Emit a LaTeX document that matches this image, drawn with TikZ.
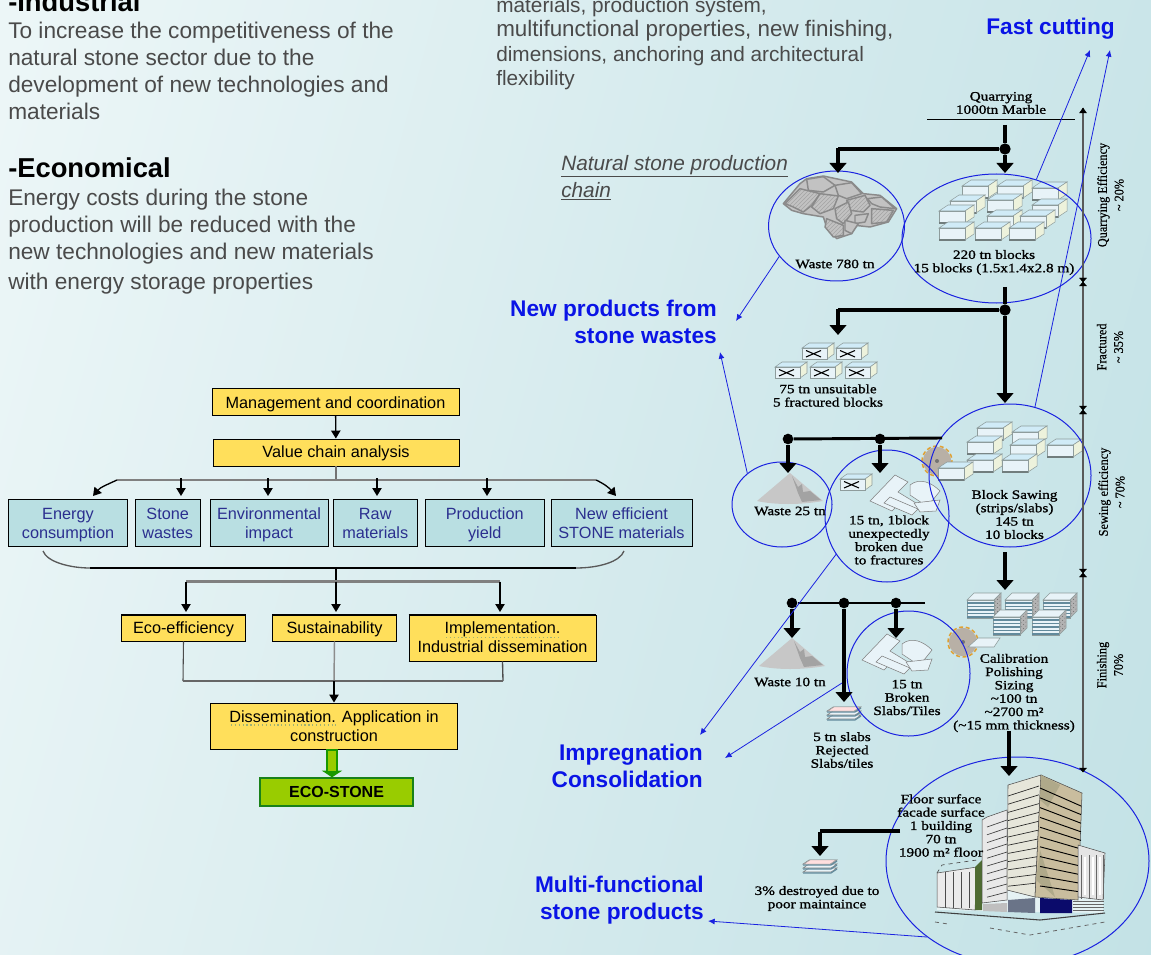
\documentclass[tikz,border=0pt]{standalone}
\usepackage{fontspec}
\usetikzlibrary{arrows.meta,shapes.geometric,calc,patterns}
\setmainfont{Liberation Sans}
\newfontfamily\ser[FakeStretch=1.19,FakeBold=1.2]{Liberation Serif}
\newfontfamily\serr[FakeStretch=0.92,FakeBold=0.4]{Liberation Serif}
\definecolor{bgA}{HTML}{F8FCFC}
\definecolor{bgC}{HTML}{ECF6F7}
\definecolor{bgM}{HTML}{D2E9EC}
\definecolor{bgB}{HTML}{BFE0E4}
\definecolor{yel}{HTML}{FFDF5B}
\definecolor{tealbox}{HTML}{B9DFE2}
\definecolor{boxblue}{HTML}{2B2F8F}
\definecolor{ecogreen}{HTML}{99CC00}
\definecolor{bodygray}{HTML}{4A4A4A}
\definecolor{lblblue}{HTML}{0A14E6}
\definecolor{ellblue}{HTML}{1A22E0}
\definecolor{blkfront}{HTML}{E8F3F8}
\definecolor{blktop}{HTML}{D0EBF7}
\definecolor{blkside}{HTML}{EDF2DC}
\definecolor{blkline}{HTML}{8E9C9C}
\definecolor{stripe}{HTML}{628A9C}
\definecolor{bldtan}{HTML}{C9BD9E}
\definecolor{bldtand}{HTML}{AFA98A}
\definecolor{bldpale}{HTML}{E6E6DA}
\definecolor{bldnavy}{HTML}{0B0B6B}
\definecolor{bldslate}{HTML}{6A7488}
\definecolor{bldgreen}{HTML}{4E6B32}
\definecolor{sawgray}{HTML}{B8B0A6}
\definecolor{sawedge}{HTML}{E0A030}
\definecolor{rockc}{HTML}{C2C2C2}
\definecolor{rockd}{HTML}{8A8A8A}
\definecolor{rockh}{HTML}{A4A4A4}
\pgfdeclarehorizontalshading{bgsh}{100bp}{color(0bp)=(bgA); color(27.4bp)=(bgA); color(39bp)=(bgC); color(52.4bp)=(bgM); color(64bp)=(bgB); color(100bp)=(bgB)}
\newcommand\flb{\rule{0pt}{11.7pt}}
\newcommand\fla{\rule{0pt}{10.4pt}}
\tikzset{
  yb/.style={draw=black,fill=yel,line width=0.7pt,inner sep=0pt,align=center,font=\fontsize{12.2}{14.2}\selectfont,text=black},
  tb/.style={draw=black,fill=tealbox,line width=0.6pt,inner sep=0pt,align=center,font=\fontsize{12.2}{14.25}\selectfont,text=boxblue},
  gb/.style={draw=green!45!black!90,fill=ecogreen,line width=1pt,inner sep=0pt,font=\bfseries\fontsize{12}{14}\selectfont,text=black},
  body/.style={anchor=north west,inner sep=0pt,align=left,text=bodygray,font=\fontsize{17}{20.25}\selectfont},
  head/.style={anchor=west,inner sep=0pt,text=black,font=\bfseries\fontsize{20.5}{24}\selectfont},
  chain/.style={anchor=west,inner sep=0pt,text=bodygray,font=\itshape\fontsize{15.6}{19}\selectfont},
  bluelbl/.style={anchor=east,inner sep=0pt,align=right,text=lblblue,font=\bfseries\fontsize{17}{20.25}\selectfont},
  st/.style={inner sep=0pt,align=center,text=black,font={\ser\fontsize{9.6}{10}\selectfont}},
  vt/.style={inner sep=0pt,align=center,rotate=90,text=black,font={\serr\fontsize{10}{12.5}\selectfont}},
  ell/.style={ellipse,draw=ellblue,line width=0.75pt,inner sep=0pt},
  blueln/.style={draw=ellblue,line width=0.6pt,-{Latex[length=5pt,width=4.5pt]}},
  bar/.style={draw=black!50,line width=2.2pt},
  thin conn/.style={draw=black,line width=1pt,-{Triangle[length=6pt,width=7pt]}},
  fat/.style={draw=black,line width=3pt},
  fatar/.style={draw=black,line width=3pt,-{Triangle[length=7.5pt,width=12.5pt]}},
  jd/.style={circle,fill=black,inner sep=0pt,minimum size=8.5pt},
  scale ln/.style={draw=black!65,line width=1pt},
  sctip/.style={draw=black,fill=black,line width=0.3pt},
  rc/.style={fill=rockc,draw=rockd,line width=1.1pt,line join=round},
  rh/.style={pattern=north east lines,pattern color=rockh,draw=rockd,line width=1.1pt,line join=round,preaction={fill=rockc}},
}
\newcommand\stblock[2]{%
  \filldraw[fill=blktop,draw=blkline,line width=.4pt] (#1,#2) -- ++(9,-6) -- ++(26,0) -- ++(-9,6) -- cycle;
  \filldraw[fill=blkside,draw=blkline,line width=.4pt] (#1+26,#2) -- ++(9,-6) -- ++(0,12) -- ++(-9,6) -- cycle;
  \filldraw[fill=blkfront,draw=blkline,line width=.5pt] (#1,#2) rectangle ++(26,12);
  \draw[blkline!80!black,line width=1pt] (#1,#2+12) -- ++(26,0);
}
\newcommand\xblock[2]{%
  \filldraw[fill=blktop,draw=blkline,line width=.4pt] (#1,#2) -- ++(7,-5) -- ++(25,0) -- ++(-7,5) -- cycle;
  \filldraw[fill=blkside,draw=blkline,line width=.4pt] (#1+25,#2) -- ++(7,-5) -- ++(0,11) -- ++(-7,5) -- cycle;
  \filldraw[fill=blkfront,draw=blkline,line width=.5pt] (#1,#2) rectangle ++(25,11);
  \draw[black,line width=.8pt] (#1+4,#2+2.5) -- ++(15,6.5) (#1+4,#2+9) -- ++(15,-6.5);
}
\newcommand\stackblk[2]{%
  \filldraw[fill=blkfront,draw=blkline,line width=.4pt] (#1,#2) -- ++(7,-7) -- ++(27,0) -- ++(-7,7) -- cycle;
  \filldraw[fill=black!30,draw=blkline,line width=.4pt] (#1+27,#2) -- ++(7,-7) -- ++(0,18) -- ++(-7,7) -- cycle;
  \filldraw[fill=blkfront,draw=blkline,line width=.4pt] (#1,#2) rectangle ++(27,18);
  \foreach \k in {3,6.5,10,13.5,17}{\draw[stripe,line width=.9pt] (#1,#2+\k) -- ++(27,0);}
  \foreach \k in {2,6,10,14}{\draw[black!60,line width=.5pt,dotted] (#1+28,#2+\k) -- ++(6,-6);}
}
\newcommand\sawdisc[2]{%
  \fill[sawgray] (#1,#2) circle[radius=14];
  \draw[sawedge,line width=1.1pt,dash pattern=on 3pt off 2pt] (#1,#2) circle[radius=15];
  \fill[black!55] (#1,#2) circle[radius=2];
}
\newcommand\pile[2]{%
  \fill[black!22] (#1,#2) -- (#1+33,#2+28) .. controls (#1+10,#2+32) and (#1-15,#2+32) .. (#1-33,#2+28) -- cycle;
  \fill[black!36] (#1+2,#2+3) -- (#1+8,#2+14) -- (#1+12,#2+11) -- (#1+13,#2+19) -- (#1+20,#2+18) -- (#1+31,#2+27) -- (#1+12,#2+29) -- (#1+8,#2+20) -- cycle;
}
\newcommand\brokenA[2]{%
  \begin{scope}[shift={(#1,#2)}]
  \tikzset{pc/.style={fill=blkfront,draw=black!50,line width=.4pt}}
  \filldraw[pc] (0,26) -- (25,0) -- (38,7) -- (28,17) -- (46,28) -- (52,36) -- (30,28) -- (22,36) -- cycle;
  \filldraw[pc] (20,22) -- (48,34) -- (42,40) -- (14,28) -- cycle;
  \filldraw[pc] (40,10) .. controls (50,2) and (62,8) .. (70,16) -- (62,26) -- (52,28) -- (40,20) -- cycle;
  \filldraw[pc] (44,28) -- (70,25) -- (66,36) -- (50,37) -- cycle;
  \end{scope}
}
\newcommand\slabicon[2]{%
  \foreach \k in {10,6,2}{
  \filldraw[fill=blkfront,draw=black!50,line width=.4pt] (#1,#2+\k) -- ++(6,-4) -- ++(28,0) -- ++(-6,4) -- cycle;
  \draw[stripe,line width=.9pt] (#1,#2+\k+1) -- ++(28,0) -- ++(6,-4);}
  \filldraw[fill=pink!50!white,draw=black!40,line width=.3pt] (#1+1,#2+2) -- ++(6,-4) -- ++(26,0) -- ++(-6,4) -- cycle;
}
\begin{document}
\begin{tikzpicture}[x=0.75pt,y=-0.75pt]
\useasboundingbox (0,0) rectangle (1151,955);
\begin{scope}
\clip (0,0) rectangle (1151,955);
\shade[shading=bgsh,shading angle=-15] (575.5-1500,477.5-1500) rectangle (575.5+1500,477.5+1500);
\end{scope}

% ---------------- text on the left and at the top
\node[head] (tIndustrial) at (8,2) {-Industrial};
\node[body] (tIndText) at (8,22) {To increase the competitiveness of the\\natural stone sector due to the\\development of new technologies and\\materials};
\node[head] (tEco) at (8,168) {-Economical};
\node[body] (tEcoText) at (8,189) {Energy costs during the stone\\production will be reduced with the\\new technologies and new materials\\[2.2pt]with energy storage properties};
\node[body,font=\fontsize{15.6}{18.4}\selectfont] (tTop) at (496,-3) {materials, production system,\\{\fontsize{16.8}{18.4}\selectfont multifunctional properties, new finishing,}\\dimensions, anchoring and architectural\\flexibility};
\node[chain] (tChainA) at (561,166) {\underline{Natural stone production}};
\node[chain] (tChainB) at (561,191) {\underline{chain}};
\node[bluelbl] (lFast) at (1115,29) {Fast cutting};
\node[bluelbl] (lNew) at (717,321.5) {New products from\\stone wastes};
\node[bluelbl] (lImp) at (703,765.5) {Impregnation\\Consolidation};
\node[bluelbl] (lMulti) at (704,900.5) {Multi-functional\\stone products};

% ---------------- flow chart on the left
\node[yb,minimum width={247*.75pt},minimum height={27*.75pt}] (mgmt) at (335.5,402) {\flb Management and coordination\vphantom{g}};
\node[yb,minimum width={246*.75pt},minimum height={27*.75pt}] (vca) at (336,452.5) {\fla Value chain analysis\vphantom{g}};
\node[tb,minimum width={119*.75pt},minimum height={47*.75pt}] (bEn) at (68,522.5) {\flb Energy\\\vphantom{Eg}consumption};
\node[tb,minimum width={64.5*.75pt},minimum height={47*.75pt}] (bSt) at (167.75,522.5) {\flb Stone\\\vphantom{Eg}wastes};
\node[tb,minimum width={118*.75pt},minimum height={47*.75pt}] (bEv) at (269,522.5) {\flb Environmental\\\vphantom{Eg}impact};
\node[tb,minimum width={83.5*.75pt},minimum height={47*.75pt}] (bRw) at (375.25,522.5) {\flb Raw\\\vphantom{Eg}materials};
\node[tb,minimum width={118.5*.75pt},minimum height={47*.75pt}] (bPr) at (484.75,522.5) {\flb Production\\\vphantom{Eg}yield};
\node[tb,minimum width={141*.75pt},minimum height={47*.75pt}] (bNw) at (621.5,522.5) {\flb New efficient\\\vphantom{Eg}STONE materials};
\node[yb,minimum width={124*.75pt},minimum height={26*.75pt}] (bEco) at (183.5,628) {\fla Eco-efficiency\vphantom{g}};
\node[yb,minimum width={124*.75pt},minimum height={26*.75pt}] (bSus) at (334.5,628) {\fla Sustainability\vphantom{g}};
\node[yb,minimum width={187*.75pt},minimum height={46*.75pt}] (bImp) at (502.5,638) {\fla Implementation.\\\vphantom{Eg}Industrial dissemination};
\node[yb,minimum width={247*.75pt},minimum height={46*.75pt}] (bDis) at (334,726) {\flb Dissemination. Application in\\\vphantom{Eg}construction};
\node[gb,minimum width={153*.75pt},minimum height={28*.75pt}] (bStone) at (336.5,792) {ECO-STONE};
\foreach \n in {vca,bEn,bSt,bEv,bRw,bPr,bNw,bImp,bDis}{\draw[black,line width=1.3pt] (\n.south west) -- (\n.south east);}
\draw[black,line width=1.3pt] (bEco.north west) -- (bEco.north east) (bSus.north west) -- (bSus.north east) (bImp.north west) -- (bImp.north east);

\draw[yellow!60!green!60!black!70,line width=.9pt,dotted] (446,637.5) -- (559,637.5);
\draw[yellow!60!green!60!black!70,line width=.9pt,dotted] (231,725) -- (336,725);

\coordinate (busL) at (117,480);
\coordinate (busM) at (336,480);
\coordinate (busR) at (596,480);
\draw[thin conn] (mgmt) -- (vca);
\draw[draw=black!55,line width=1pt] (vca) -- (busM);
\draw[bar] (busL) -- (busR);
\coordinate (tipEn) at (93,496);
\coordinate (tipNw) at (616,496);
\draw[thin conn] (busL) to[out=205,in=50] (tipEn);
\draw[thin conn] (busR) to[out=-25,in=130] (tipNw);
\foreach \nm/\xx in {St/181,Ev/268,Rw/377,Pr/487}{
  \coordinate (top\nm) at (\xx,478);
  \coordinate (tip\nm) at (\xx,496);
  \draw[thin conn] (top\nm) -- (tip\nm);
}
% brace
\coordinate (brL) at (43,551);
\coordinate (brR) at (624,551);
\coordinate (brA) at (90,568);
\coordinate (brB) at (576,568);
\coordinate (brM) at (336,568);
\draw[black!65,line width=1pt] (brL) .. controls (47,562) and (70,568) .. (brA);
\draw[black!65,line width=1pt] (brR) .. controls (620,562) and (598,568) .. (brB);
\draw[black,line width=1.5pt] (brA) -- (brB);
\coordinate (bus2M) at (336,581.5);
\coordinate (bus2L) at (186,581.5);
\coordinate (bus2R) at (500,581.5);
\draw[black,line width=1pt] (brM) -- (bus2M);
\draw[bar] (bus2L) -- (bus2R);
\coordinate (t2L) at (186,612);
\coordinate (t2M) at (336,612);
\coordinate (t2R) at (500,612);
\draw[thin conn] (bus2L) -- (t2L);
\draw[thin conn] (bus2M) -- (t2M);
\draw[thin conn] (bus2R) -- (t2R);
% join
\coordinate (jL) at (183,681);
\coordinate (jM) at (334,681);
\coordinate (jR) at (503,681);
\draw[black!70,line width=.8pt] (bEco.south) -- (jL);
\draw[black!45,line width=1.1pt] (bSus.south) -- (jM);
\draw[black!70,line width=1pt] (bImp.south) -- (jR);
\draw[black!60,line width=1.2pt] (jL) -- (jR);
\draw[thin conn] (jM) -- (bDis.north);
\draw[draw=green!55!black!90!yellow,line width=9pt,-{Triangle[length=5pt,width=15pt]}] ([xshift=-1.5pt]bDis.south) -- ([xshift=-1.5pt]bDis.south |- bStone.north);
\draw[draw=ecogreen,line width=6pt] ([xshift=-1.5pt,yshift=-1pt]bDis.south) -- ([xshift=-1.5pt,yshift=5pt]bDis.south |- bStone.north);

% ---------------- icons, production chain
% rock
\begin{scope}[shift={(780,172)},x=0.25pt,y=-0.25pt]
\filldraw[rc] (10,95) -- (60,35) -- (80,20) -- (130,12) -- (215,30) -- (250,65) -- (300,70) -- (350,110) -- (325,150) -- (270,165) -- (225,160) -- (215,185) -- (170,200) -- (140,165) -- (130,135) -- (70,125) -- (35,115) -- cycle;
\filldraw[rc] (80,22) -- (130,14) -- (165,40) -- (130,60) -- (85,55) -- cycle;
\filldraw[rc] (165,40) -- (215,32) -- (245,65) -- (200,80) -- (175,70) -- cycle;
\filldraw[rh] (60,50) -- (120,65) -- (95,100) -- (70,120) -- (40,105) -- (15,95) -- cycle;
\filldraw[rh] (120,65) -- (175,72) -- (160,110) -- (120,125) -- (95,105) -- cycle;
\filldraw[rh] (200,85) -- (255,70) -- (270,100) -- (250,120) -- (210,115) -- cycle;
\filldraw[rh] (165,110) -- (205,90) -- (215,125) -- (190,155) -- (170,140) -- cycle;
\filldraw[rc] (262,80) -- (305,75) -- (345,110) -- (300,105) -- (275,95) -- cycle;
\filldraw[rc] (225,130) -- (265,125) -- (255,150) -- (225,155) -- cycle;
\filldraw[rh] (275,110) -- (340,115) -- (320,150) -- (275,155) -- cycle;
\filldraw[rc] (195,145) -- (235,155) -- (215,185) -- (195,175) -- cycle;
\filldraw[rh] (140,140) -- (190,160) -- (190,190) -- (160,195) -- (135,165) -- cycle;
\end{scope}
% quarry blocks
\foreach \x/\y in {962/186,997/186,1032/188,950/201,987/200,1032/205,939/211,987/216,1020/216,939/228,975/228,1009/228}{\stblock{\x}{\y}}
% fractured blocks
\foreach \x/\y in {802/348,836/348,775/367,810/367,845/367}{\xblock{\x}{\y}}
% sawing
\sawdisc{937}{461}
\foreach \x/\y in {977/428,1012/432,967/442,1010/445,967/460,1002/460,1047/445,938/468}{\stblock{\x}{\y}}
\xblock{840}{479}
\brokenA{870}{475}
\pile{790}{473}
% finishing
\pile{792}{638}
\sawdisc{963}{642}
\filldraw[fill=blkfront,draw=blkline,line width=.4pt] (968,647) -- (978,638) -- (1000,638) -- (994,647) -- cycle;
\foreach \x/\y in {967/600,1005/600,1043/600,993/617,1032/617}{\stackblk{\x}{\y}}
\brokenA{862}{634}
\slabicon{827}{709}
\slabicon{803}{862}

% building
\begin{scope}
\tikzset{bl/.style={draw=black!70,line width=.4pt}}
\fill[white,opacity=.55] (937,873) -- (977,867) -- (982,860) -- (987,817) -- (1007,810) -- (1008,785) -- (1041,775) -- (1082,793) -- (1078,845) -- (1105,853) -- (1103,900) -- (1103,913) -- (937,910) -- cycle;
\filldraw[fill=white!92!black,bl] (937,873) -- (977,867) -- (975,910) -- (937,907) -- cycle;
\foreach \x in {945,953,961,969}{\draw[black!70,line width=.6pt] (\x,872) -- (\x,908);}
\draw[black!70,dashed,line width=.5pt] (937,873) -- (942,865) -- (977,860);
\fill[bldgreen] (975,867) -- (982,860) -- (982,910) -- (975,910) -- cycle;
\filldraw[fill=black!9,bl] (982,820) -- (987,817) -- (1007,810) -- (1007,900) -- (982,903) -- cycle;
\foreach \k in {0,...,9}{\draw[black!75,line width=.5pt] (987,827+\k*7.8) -- (1007,820+\k*8);}
\filldraw[fill=bldpale,bl] (1008,785) -- (1041,775) -- (1035,897) -- (1007,890) -- cycle;
\foreach \k in {0,...,11}{\draw[black!85,line width=.5pt] (1008,796+\k*8.2) -- (1039,786+\k*8.8);}
\filldraw[fill=bldtan,bl] (1041,775) -- (1082,793) -- (1078,900) -- (1035,897) -- cycle;
\fill[bldtand] (1041,775) -- (1060,785) -- (1048,807) -- (1040,800) -- cycle;
\fill[bldtand] (1036,880) -- (1040,850) -- (1055,897) -- cycle;
\foreach \k in {0,...,10}{\draw[black,line width=.7pt] (1040,788+\k*9.8) -- (1081,806+\k*8.6);}
\filldraw[fill=black!10,bl] (1078,845) -- (1105,853) -- (1103,900) -- (1078,897) -- cycle;
\foreach \x in {1085,1093,1100}{\draw[white,line width=1.8pt] (\x,857) -- (\x,895);}
\foreach \x in {1081,1089,1096,1103}{\draw[black!60,line width=.7pt] (\x,855) -- (\x,899);}
\fill[bldslate] (1008,900) -- (1035,898) -- (1035,913) -- (1008,912) -- cycle;
\fill[bldnavy] (1040,898) -- (1072,900) -- (1072,913) -- (1040,913) -- cycle;
\fill[black!25] (983,904) -- (1007,903) -- (1007,912) -- (983,911) -- cycle;
\foreach \k in {0,3,6,9}{\draw[black!60,line width=.7pt] (1073,901+\k) -- (1104,901+\k);}
\draw[black!75,line width=.8pt] (935,912) -- (1040,920) -- (1105,913);
\draw[black!60,line width=.6pt,dashed] (990,928) -- (1030,935) -- (1105,922);
\draw[black!60,line width=.6pt,dashed] (935,922) -- (948,924);
\end{scope}

% ---------------- ellipses
\node[ell,minimum width={136*.75pt},minimum height={110*.75pt}] (eWaste) at (836.5,226) {};
\node[ell,minimum width={189*.75pt},minimum height={129*.75pt}] (eBlocks) at (996.5,238.5) {};
\node[ell,minimum width={162*.75pt},minimum height={143*.75pt}] (eSaw) at (1010,475.5) {};
\node[ell,minimum width={100*.75pt},minimum height={85*.75pt}] (eW25) at (782,504.5) {};
\node[ell,minimum width={124*.75pt},minimum height={132*.75pt}] (eBroke) at (887,516) {};
\node[ell,minimum width={123*.75pt},minimum height={125*.75pt}] (eTiles) at (908.5,673.5) {};
\node[ell,minimum width={263*.75pt},minimum height={208*.75pt}] (eBld) at (1017.5,861) {};

% ---------------- chain labels
\node[st] (sQuarry) at (1001,103) {Quarrying\\1000tn Marble};
\node[st] (sW780) at (835,264) {Waste 780 tn};
\node[st] (sBlocks) at (994,262.5) {220 tn blocks\\15 blocks (1.5x1.4x2.8 m)};
\node[st] (sUnsuit) at (828,395.5) {75 tn unsuitable\\5 fractured blocks};
\node[st] (sW25) at (790,511) {Waste 25 tn};
\node[st] (sOneBlock) at (889,540) {15 tn, 1block\\unexpectedly\\broken due\\to fractures};
\node[st] (sSaw) at (1014.5,514.5) {Block Sawing\\(strips/slabs)\\145 tn\\10 blocks};
\node[st] (sW10) at (790,682) {Waste 10 tn};
\node[st] (sRej) at (842,750) {5 tn slabs\\Rejected\\Slabs/tiles};
\node[st] (sTiles) at (907,697.5) {15 tn\\Broken\\Slabs/Tiles};
\node[st] (sCal) at (1014,693) {Calibration\\Polishing\\Sizing\\\textasciitilde100 tn\\\textasciitilde2700 m²\\(\textasciitilde15 mm thickness)};
\node[st] (sFloor) at (941,825.5) {Floor surface\\facade surface\\1 building\\70 tn\\1900 m² floor};
\node[st] (sDestr) at (817,898.5) {3\% destroyed due to\\poor maintaince};
\node[vt] (vQ) at (1110.5,195) {Quarrying Efficiency\\\textasciitilde\ 20\%};
\node[vt] (vF) at (1110,347) {Fractured\\\textasciitilde\ 35\%};
\node[vt] (vS) at (1111.5,492) {Sewing efficiency\\\textasciitilde\ 70\%};
\node[vt] (vG) at (1110,665) {Finishing\\70\%};

% ---------------- thick chain connectors
\coordinate (qLineL) at (927,119.5);
\coordinate (qLineR) at (1075,119.5);
\draw[black,line width=.9pt] (qLineL) -- (qLineR);
\node[jd] (j1) at (1005,149) {};
\coordinate (j1s) at (1005,125);
\coordinate (j1t) at (1005,173);
\coordinate (j1c) at (838,149);
\coordinate (j1e) at (838,173);
\draw[fat] (j1s) -- (j1);
\draw[fatar] (j1) -- (j1t);
\draw[fat,line width=2.4pt] (j1) -- (j1c);
\draw[fatar] ([yshift=0.9pt]j1c) -- (j1e);

\node[jd] (j2) at (1005,310) {};
\coordinate (j2s) at (1005,287);
\coordinate (j2t) at (1005,403);
\coordinate (j2c) at (838,310);
\coordinate (j2e) at (838,335);
\draw[fat] (j2s) -- (j2);
\draw[fatar] (j2) -- (j2t);
\draw[fat,line width=2.4pt] (j2) -- (j2c);
\draw[fatar] ([yshift=0.9pt]j2c) -- (j2e);

\node[jd,minimum size=8pt] (j3) at (788,439) {};
\node[jd,minimum size=8pt] (j4) at (880,439) {};
\coordinate (j3s) at (942,438);
\coordinate (j3e) at (788,473);
\coordinate (j4e) at (880,473);
\draw[fat,line width=2.2pt] (j3s) -- (j3);
\draw[fatar] (j3) -- (j3e);
\draw[fatar] (j4) -- (j4e);

\coordinate (a5s) at (1005,552);
\coordinate (a5e) at (1005,590);
\draw[fatar] (a5s) -- (a5e);

\node[jd,minimum size=8pt] (j5) at (792,603) {};
\node[jd,minimum size=8pt] (j6) at (844,603) {};
\node[jd,minimum size=8pt] (j7) at (896,603) {};
\coordinate (j5s) at (925,603);
\coordinate (j5e) at (792,638);
\coordinate (j6e) at (844,702);
\coordinate (j7e) at (896,638);
\draw[fat,line width=2.2pt] (j5s) -- (j5);
\draw[fatar] (j5) -- (j5e);
\draw[fatar] (j6) -- (j6e);
\draw[fatar] (j7) -- (j7e);

\coordinate (a6s) at (1009,731);
\coordinate (a6e) at (1009,776);
\draw[fatar] (a6s) -- (a6e);

\coordinate (a7s) at (900,831);
\coordinate (a7c) at (820,831);
\coordinate (a7e) at (820,856);
\draw[fat,line width=2.4pt] (a7s) -- (a7c);
\draw[fatar] ([yshift=-0.9pt]a7c) -- (a7e);

% ---------------- scale on the right
\coordinate (sTop) at (1083,108);
\coordinate (sBot) at (1083,772);
\draw[scale ln] (sTop) -- (sBot);
\foreach \yy in {282,410,573}{
  \filldraw[sctip] (1079.5,\yy-4) -- (1086.5,\yy-4) -- (1083,\yy) -- cycle;
  \filldraw[sctip] (1079.5,\yy+4) -- (1086.5,\yy+4) -- (1083,\yy) -- cycle;
}
\filldraw[sctip] (1079.5,113) -- (1086.5,113) -- (1083,108) -- cycle;
\filldraw[sctip] (1079.5,768) -- (1086.5,768) -- (1083,772) -- cycle;

% ---------------- blue connectors
\coordinate (tFastA) at (1090,50);
\coordinate (tFastB) at (1110,50);
\coordinate (tNewA) at (736,321);
\coordinate (tNewB) at (720,352);
\coordinate (tImpA) at (700,735);
\coordinate (tImpB) at (725,758);
\coordinate (sRejA) at (842,683);
\coordinate (tMul) at (708,921);
\draw[blueln] (eBlocks.56) -- (tFastA);
\draw[blueln] (eSaw.70) -- (tFastB);
\draw[blueln] (eWaste.208) -- (tNewA);
\draw[blueln] (eW25.138) -- (tNewB);
\draw[blueln] (eBroke.217) -- (tImpA);
\draw[blueln] (sRejA) -- (tImpB);
\draw[blueln] (eBld.220) -- (tMul);
\end{tikzpicture}
\end{document}
